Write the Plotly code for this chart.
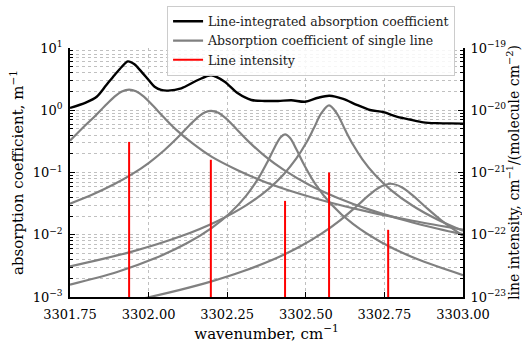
import plotly.graph_objects as go

# ---- data ----
x_line1 = [3301.75, 3301.79, 3301.83, 3301.86, 3301.89, 3301.915, 3301.938, 3301.96, 3301.985, 3302.015, 3302.05, 3302.09, 3302.14, 3302.20, 3302.28, 3302.37, 3302.47, 3302.58, 3302.70, 3302.84, 3303.00]
y_line1 = [0.325, 0.52, 0.81, 1.16, 1.63, 2.01, 2.15, 2.02, 1.66, 1.17, 0.755, 0.475, 0.293, 0.180, 0.111, 0.0705, 0.0472, 0.0327, 0.0233, 0.0168, 0.0121]

x_line2 = [3301.75, 3301.82, 3301.89, 3301.95, 3302.00, 3302.05, 3302.09, 3302.13, 3302.16, 3302.18, 3302.199, 3302.22, 3302.245, 3302.28, 3302.32, 3302.37, 3302.43, 3302.51, 3302.60, 3302.70, 3302.82, 3302.92, 3303.00]
y_line2 = [0.0316, 0.0438, 0.0645, 0.0959, 0.142, 0.228, 0.354, 0.574, 0.799, 0.930, 0.98, 0.920, 0.745, 0.496, 0.308, 0.183, 0.110, 0.0637, 0.0394, 0.0256, 0.0168, 0.0125, 0.0102]

x_line3 = [3301.75, 3301.90, 3302.02, 3302.12, 3302.20, 3302.26, 3302.31, 3302.35, 3302.38, 3302.40, 3302.42, 3302.434, 3302.45, 3302.47, 3302.495, 3302.53, 3302.58, 3302.65, 3302.74, 3302.85, 3303.00]
y_line3 = [0.00158, 0.00252, 0.00418, 0.00721, 0.0128, 0.0226, 0.0422, 0.082, 0.155, 0.248, 0.369, 0.41, 0.358, 0.236, 0.132, 0.0659, 0.0313, 0.0149, 0.00758, 0.00414, 0.00225]

x_line4 = [3301.75, 3301.95, 3302.10, 3302.22, 3302.31, 3302.38, 3302.43, 3302.47, 3302.50, 3302.525, 3302.55, 3302.574, 3302.60, 3302.625, 3302.65, 3302.68, 3302.72, 3302.77, 3302.84, 3302.92, 3303.00]
y_line4 = [0.00311, 0.00541, 0.00935, 0.0167, 0.0296, 0.0537, 0.094, 0.168, 0.292, 0.508, 0.905, 1.2, 0.868, 0.485, 0.281, 0.163, 0.0917, 0.0527, 0.0292, 0.0174, 0.01155]

x_line5 = [3301.90, 3302.00, 3302.10, 3302.20, 3302.30, 3302.40, 3302.48, 3302.55, 3302.61, 3302.66, 3302.70, 3302.735, 3302.77, 3302.805, 3302.84, 3302.88, 3302.93, 3303.00]
y_line5 = [0.00078, 0.00099, 0.0013, 0.00178, 0.00259, 0.00408, 0.0064, 0.0104, 0.0172, 0.0282, 0.0428, 0.0581, 0.066, 0.0581, 0.0428, 0.0282, 0.0172, 0.0096]

x_total = [3301.75, 3301.80, 3301.835, 3301.865, 3301.892, 3301.915, 3301.934, 3301.955, 3301.977, 3302.00, 3302.019, 3302.04, 3302.062, 3302.104, 3302.157, 3302.199, 3302.242, 3302.284, 3302.327, 3302.369, 3302.412, 3302.454, 3302.497, 3302.539, 3302.575, 3302.619, 3302.662, 3302.704, 3302.747, 3302.789, 3302.831, 3302.874, 3302.916, 3302.96, 3303.00]
y_total = [1.09, 1.33, 1.65, 2.52, 3.69, 5.0, 6.1, 5.47, 4.17, 3.06, 2.39, 2.12, 2.07, 2.25, 3.06, 3.65, 2.88, 1.87, 1.46, 1.41, 1.41, 1.45, 1.37, 1.59, 1.71, 1.52, 1.22, 1.01, 0.93, 0.79, 0.71, 0.64, 0.62, 0.615, 0.61]

line_centers = [3301.938, 3302.198, 3302.434, 3302.574, 3302.762]
line_intensity = [3.1e-21, 1.6e-21, 3.5e-22, 1.0e-21, 1.2e-22]

x_ticks = [3301.75, 3302.00, 3302.25, 3302.50, 3302.75, 3303.00]
x_ticktext = ["3301.75", "3302.00", "3302.25", "3302.50", "3302.75", "3303.00"]
y_ticks = [1e-3, 1e-2, 1e-1, 1e0, 1e1]
y_ticktext = ["10<sup>−3</sup>", "10<sup>−2</sup>", "10<sup>−1</sup>", "10<sup>0</sup>", "10<sup>1</sup>"]
y2_ticks = [1e-23, 1e-22, 1e-21, 1e-20, 1e-19]
y2_ticktext = ["10<sup>−23</sup>", "10<sup>−22</sup>", "10<sup>−21</sup>", "10<sup>−20</sup>", "10<sup>−19</sup>"]

FONT = "DejaVu Serif"
GRAY = "#808080"
GRID = "#c0c0c0"

fig = go.Figure()

singles = [(x_line1, y_line1), (x_line2, y_line2), (x_line3, y_line3), (x_line4, y_line4), (x_line5, y_line5)]
for i, (xs, ys) in enumerate(singles):
    fig.add_trace(go.Scatter(
        x=xs, y=ys, mode="lines", line=dict(color=GRAY, width=2.2, shape="spline", smoothing=1.0),
        name="Absorption coefficient of single line", showlegend=(i == 0), legendrank=2,
        xaxis="x", yaxis="y"))

fig.add_trace(go.Scatter(
    x=x_total, y=y_total, mode="lines", line=dict(color="black", width=2.4, shape="spline", smoothing=0.8),
    name="Line-integrated absorption coefficient", legendrank=1, xaxis="x", yaxis="y"))

# stems for line intensity (right axis)
y2_low = y2_ticks[0]
sx, sy = [], []
for c, s in zip(line_centers, line_intensity):
    sx += [c, c, None]
    sy += [y2_low * 0.5, s, None]
fig.add_trace(go.Scatter(
    x=sx, y=sy, mode="lines", line=dict(color="#ff0000", width=2),
    name="Line intensity", legendrank=3, xaxis="x", yaxis="y2"))

minor_y = [m * 10.0 ** e for e in range(-3, 1) for m in range(2, 10)]
minor_y2 = [m * 10.0 ** e for e in range(-23, -19) for m in range(2, 10)]

fig.update_layout(
    width=522, height=343,
    margin=dict(l=70, r=59, t=48, b=46, autoexpand=False),
    paper_bgcolor="white", plot_bgcolor="white",
    font=dict(family=FONT, size=13, color="black"),
    showlegend=True,
    legend=dict(x=0.247, y=1.17, xanchor="left", yanchor="top",
                bgcolor="rgba(255,255,255,0.85)", bordercolor="#cccccc", borderwidth=1,
                font=dict(family=FONT, size=12.5, color="#222222"),
                itemwidth=30, tracegroupgap=0),
    xaxis=dict(range=[3301.75, 3303.0], tickmode="array", tickvals=x_ticks, ticktext=x_ticktext,
               ticks="inside", ticklen=5, tickwidth=1.2, tickcolor="black", automargin=False,
               showline=True, linecolor="black", linewidth=1.6, mirror=False,
               showgrid=True, gridcolor=GRID, griddash="dot", gridwidth=1, zeroline=False,
               tickfont=dict(family=FONT, size=13), ticklabelstandoff=5,
               title=dict(text="wavenumber, cm<sup>−1</sup>", font=dict(family=FONT, size=15), standoff=3)),
    yaxis=dict(type="log", range=[-3, 1], tickmode="array", tickvals=y_ticks, ticktext=y_ticktext,
               ticks="inside", ticklen=5, tickwidth=1.2, tickcolor="black", automargin=False,
               showline=True, linecolor="black", linewidth=1.6,
               showgrid=True, gridcolor=GRID, griddash="dot", gridwidth=1, zeroline=False,
               minor=dict(tickmode="array", tickvals=minor_y, ticks="inside", ticklen=3, tickcolor="black",
                          showgrid=True, gridcolor=GRID, griddash="dot", gridwidth=0.8),
               tickfont=dict(family=FONT, size=13), ticklabelstandoff=3,
               title=dict(text="absorption coefficient, m<sup>−1</sup>", font=dict(family=FONT, size=15), standoff=5)),
    yaxis2=dict(type="log", range=[-23, -19], overlaying="y", side="right", anchor="x",
                tickmode="array", tickvals=y2_ticks, ticktext=y2_ticktext, automargin=False,
                ticks="inside", ticklen=5, tickwidth=1.2, tickcolor="black",
                showline=True, linecolor="black", linewidth=1.6, showgrid=False, zeroline=False,
                minor=dict(tickmode="array", tickvals=minor_y2, ticks="inside", ticklen=3, tickcolor="black"),
                tickfont=dict(family=FONT, size=13), ticklabelstandoff=3,
                title=dict(text="line intensity, cm<sup>−1</sup>/(molecule cm<sup>−2</sup>)", font=dict(family=FONT, size=14), standoff=2)),
)

fig.write_html("out.html")
